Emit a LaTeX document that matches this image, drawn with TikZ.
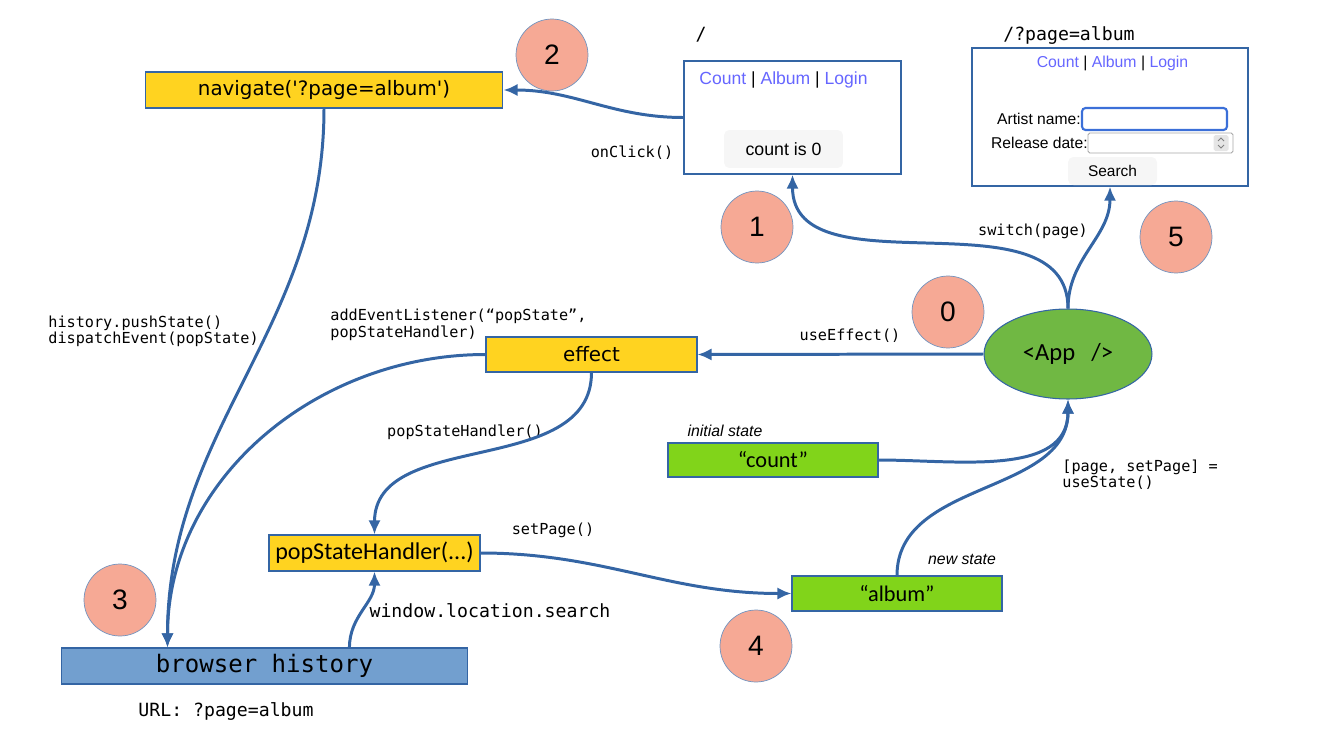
\documentclass[tikz,border=0pt]{standalone}
\usepackage{fontspec}
\setmainfont{Liberation Sans}
\newfontfamily\codefont{DejaVu Sans Mono}
\newfontfamily\boxfont{DejaVu Sans}
\newfontfamily\calfont{Carlito}
\usepackage{xcolor}
\usepackage{tikz}
\usetikzlibrary{shapes.geometric, arrows.meta, positioning, calc}
\definecolor{lineblue}{HTML}{3465A4}
\definecolor{boxyellow}{HTML}{FFD320}
\definecolor{stategreen}{HTML}{81D41A}
\definecolor{appgreen}{HTML}{70B843}
\definecolor{stepred}{HTML}{F6A995}
\definecolor{histblue}{HTML}{729FCF}
\definecolor{linkblue}{HTML}{6666FF}
\definecolor{btngray}{HTML}{F6F6F6}
\definecolor{focusblue}{HTML}{3B6FD8}
\newcommand{\lnk}[1]{\textcolor{linkblue}{#1}}
\tikzstyle{funcbox} = [rectangle, draw=lineblue, line width=0.6pt, fill=boxyellow, minimum height=0.72cm, inner sep=0pt, font=\boxfont\fontsize{11.3}{13}\selectfont]
\tikzstyle{statebox} = [rectangle, draw=lineblue, line width=0.6pt, fill=stategreen, minimum width=4.2cm, minimum height=0.7cm, inner sep=0pt, font=\calfont\fontsize{12.7}{14}\selectfont]
\tikzstyle{stepnum} = [circle, draw=lineblue!70, line width=0.4pt, fill=stepred, minimum size=1.44cm, inner sep=0pt, font=\fontsize{16}{18}\selectfont]
\tikzstyle{webpage} = [rectangle, draw=lineblue, line width=0.7pt, inner sep=0pt]
\tikzstyle{button} = [rectangle, rounded corners=3pt, fill=btngray, inner sep=0pt]
\tikzstyle{code} = [font=\codefont\fontsize{8.65}{9.2}\selectfont, inner sep=0pt, align=left]
\tikzstyle{bigcode} = [font=\codefont\fontsize{10.35}{12}\selectfont, inner sep=0pt]
\tikzstyle{note} = [font=\itshape\fontsize{9}{11}\selectfont, inner sep=0pt]
\tikzstyle{arrow} = [line width=1.7pt, draw=lineblue, -{Latex[length=8pt,width=7pt]}]

\begin{document}
\begin{tikzpicture}[x=0.02cm, y=0.02cm]
\useasboundingbox (0,0) rectangle (1323,-744);

% the two pages
\node (page1) [webpage, minimum width=4.34cm, minimum height=2.26cm] at (792.5,-117.5) {};
\node (links1) [font=\fontsize{10}{12}\selectfont, inner sep=0pt] at (783.5,-80) {\lnk{Count} | \lnk{Album} | \lnk{Login}};
\node (countbtn) [button, minimum width=2.38cm, minimum height=0.76cm, font=\fontsize{10.1}{12}\selectfont] at (783.5,-149) {count is 0};

\node (page2) [webpage, minimum width=5.52cm, minimum height=2.76cm] at (1110,-117) {};
\node (links2) [font=\fontsize{9}{11}\selectfont, inner sep=0pt] at (1112.5,-63) {\lnk{Count} | \lnk{Album} | \lnk{Login}};
\node (artist) [font=\fontsize{8.9}{11}\selectfont, inner sep=0pt, anchor=east] at (1081,-119) {Artist name:};
\node (artistin) [rectangle, rounded corners=2pt, draw=focusblue, line width=1.2pt, minimum width=2.9cm, minimum height=0.44cm, inner sep=0pt] at (1154.5,-119) {};
\node (release) [font=\fontsize{8.9}{11}\selectfont, inner sep=0pt, anchor=east] at (1088,-143) {Release date:};
\node (releasein) [rectangle, rounded corners=1pt, draw=gray!70, line width=0.5pt, minimum width=2.9cm, minimum height=0.4cm, inner sep=0pt] at (1160.5,-143) {};
\node (spin) [rectangle, rounded corners=1pt, fill=gray!20, minimum width=0.3cm, minimum height=0.32cm, inner sep=0pt] at (1221,-143) {};
\draw [gray, line width=0.5pt] ($(spin.center)+(-3,2)$) -- ++(3,3) -- ++(3,-3);
\draw [gray, line width=0.5pt] ($(spin.center)+(-3,-2)$) -- ++(3,-3) -- ++(3,3);
\node (searchbtn) [button, minimum width=1.78cm, minimum height=0.56cm, font=\fontsize{8.8}{11}\selectfont] at (1112.5,-171) {Search};

% code boxes
\node (navigate) [funcbox, minimum width=7.16cm] at (324,-90) {navigate('?page=album')};
\node (effect) [funcbox, minimum width=4.22cm, minimum height=0.7cm] at (591.5,-354.5) {effect};
\node (handler) [funcbox, minimum width=4.22cm, font=\calfont\fontsize{13.7}{15}\selectfont] at (374.5,-553) {popStateHandler(...)};
\node (count) [statebox, minimum height=0.68cm] at (773,-460) {“count”};
\node (album) [statebox] at (897,-593.5) {“album”};
\node (history) [rectangle, draw=lineblue, line width=0.6pt, fill=histblue, minimum width=8.14cm, minimum height=0.72cm, inner sep=0pt, font=\codefont\fontsize{13.7}{15}\selectfont] at (264.5,-666) {browser history};
\node (app) [ellipse, draw=lineblue, line width=0.6pt, fill=appgreen, minimum width=3.36cm, minimum height=1.8cm, inner sep=0pt, font=\calfont\fontsize{14}{16}\selectfont] at (1068,-354) {<App\hspace{0.65em}/>};

% steps
\node (step0) [stepnum] at (948,-312) {0};
\node (step1) [stepnum] at (757,-227) {1};
\node (step2) [stepnum] at (552,-55) {2};
\node (step3) [stepnum] at (120,-600) {3};
\node (step4) [stepnum] at (756,-646) {4};
\node (step5) [stepnum] at (1176,-237) {5};

% labels
\node (root) [bigcode] at (701,-35) {/};
\node (albumurl) [bigcode] at (1069,-35) {/?page=album};
\node (onclick) [code] at (632,-153) {onClick()};
\node (switch) [code] at (1033,-231) {switch(page)};
\node (useeffect) [code] at (850,-336) {useEffect()};
\node (listener) [code, anchor=north west] at (330,-309) {addEventListener(“popState”,\\popStateHandler)};
\node (push) [code, anchor=west] at (48,-331) {history.pushState()\\dispatchEvent(popState)};
\node (callhandler) [code] at (465,-432) {popStateHandler()};
\node (search) [bigcode] at (490,-611) {window.location.search};
\node (setpage) [code] at (553,-530) {setPage()};
\node (usestate) [code, anchor=west] at (1062,-475) {{[}page, setPage{]} =\\useState()};
\node (url) [bigcode] at (226,-711) {URL: ?page=album};
\node (initial) [note] at (725,-431) {initial state};
\node (newstate) [note] at (962,-559) {new state};

\draw [arrow] (page1.west) to[out=180,in=0] (navigate.east);
\draw [arrow] (app.north) to[out=90,in=-90] (page1.south);
\draw [arrow] (app.north) to[out=90,in=-90] (page2.south);
\draw [arrow] (app.west) -- (effect.east);
\draw [arrow] (navigate.south) to[out=-90,in=90] ([xshift=2.14cm]history.north west);
\draw [arrow] (effect.west) to[out=180,in=90] ([xshift=2.14cm]history.north west);
\draw [arrow] (effect.south) to[out=-90,in=90] (handler.north);
\draw [arrow] ([xshift=5.78cm]history.north west) to[out=90,in=-90] (handler.south);
\draw [arrow] (handler.east) to[out=0,in=180] (album.west);
\draw [arrow] (count.east) to[out=0,in=-90] (app.south);
\draw [arrow] (album.north) to[out=90,in=-90] (app.south);

\end{tikzpicture}
\end{document}
